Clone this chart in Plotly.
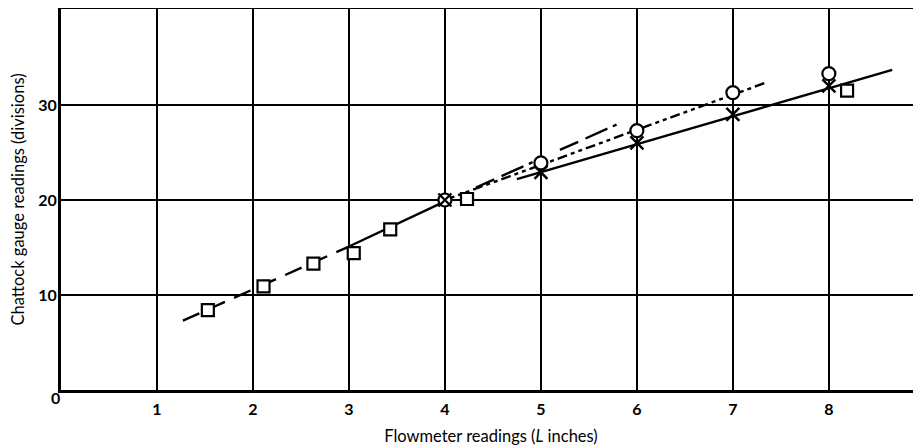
import plotly.graph_objects as go

# Data
sq_x = [1.53, 2.11, 2.63, 3.05, 3.43, 4.23, 8.19]
sq_y = [8.4, 10.9, 13.3, 14.4, 16.9, 20.1, 31.5]
circ_x = [4, 5, 6, 7, 8]
circ_y = [20.0, 23.9, 27.3, 31.3, 33.3]
cross_x = [4, 5, 6, 7, 8]
cross_y = [20.0, 22.9, 26.0, 29.0, 32.0]

# Fitted lines (end points)
sq_line_dash1_x = [1.27, 3.0]
sq_line_dash1_y = [7.3, 15.1]
sq_line_solid_x = [3.0, 4.0]
sq_line_solid_y = [15.1, 19.85]
sq_line_dash2_x = [4.0, 5.87]
sq_line_dash2_y = [19.85, 28.3]
circ_line_x = [4.0, 7.33]
circ_line_y = [20.0, 32.3]
cross_line_x = [4.75, 8.66]
cross_line_y = [22.2, 33.7]

x_ticks = [1, 2, 3, 4, 5, 6, 7, 8]
y_ticks = [10, 20, 30]

fig = go.Figure()
line_w = 2.4
fig.add_trace(go.Scatter(x=sq_line_dash1_x, y=sq_line_dash1_y, mode="lines",
                         line=dict(color="black", width=line_w, dash="18px,10px")))
fig.add_trace(go.Scatter(x=sq_line_solid_x, y=sq_line_solid_y, mode="lines",
                         line=dict(color="black", width=line_w)))
fig.add_trace(go.Scatter(x=sq_line_dash2_x, y=sq_line_dash2_y, mode="lines",
                         line=dict(color="black", width=line_w, dash="4px,30px,20px,8px,24px,6px")))
fig.add_trace(go.Scatter(x=circ_line_x, y=circ_line_y, mode="lines",
                         line=dict(color="black", width=line_w, dash="10px,4px,4px,4px,4px,4px")))
fig.add_trace(go.Scatter(x=cross_line_x, y=cross_line_y, mode="lines",
                         line=dict(color="black", width=line_w)))

fig.add_trace(go.Scatter(x=sq_x, y=sq_y, mode="markers",
                         marker=dict(symbol="square", size=12, color="white",
                                     line=dict(color="black", width=2.2))))
fig.add_trace(go.Scatter(x=circ_x, y=circ_y, mode="markers",
                         marker=dict(symbol="circle", size=13, color="white",
                                     line=dict(color="black", width=2.2))))
fig.add_trace(go.Scatter(x=cross_x, y=cross_y, mode="markers",
                         marker=dict(symbol="x-thin", size=13, color="black",
                                     line=dict(color="black", width=2.4))))

font_family = "Lato, 'Open Sans', sans-serif"
fig.update_layout(
    width=913, height=438,
    margin=dict(l=53, r=0, t=1, b=56, autoexpand=False),
    paper_bgcolor="white", plot_bgcolor="white",
    showlegend=False,
    font=dict(family=font_family, color="black"),
)
fig.update_xaxes(
    range=[0, 8.96], tickmode="array", tickvals=x_ticks,
    ticktext=[str(v) for v in x_ticks], automargin=False,
    showgrid=True, gridcolor="black", gridwidth=2,
    showline=True, linecolor="black", linewidth=3, mirror=True,
    zeroline=False, ticks="", ticklabelstandoff=3,
    tickfont=dict(size=16, family=font_family, weight="bold"),
    title=dict(text="Flowmeter readings (<i>L</i> inches)", font=dict(size=16.5), standoff=14),
)
fig.update_yaxes(
    range=[0, 40.1], tickmode="array", tickvals=y_ticks,
    ticktext=[str(v) for v in y_ticks], automargin=False,
    showgrid=True, gridcolor="black", gridwidth=2,
    showline=True, linecolor="black", linewidth=3, mirror=False,
    zeroline=False, ticks="", ticklabelstandoff=-2,
    tickfont=dict(size=16, family=font_family, weight="bold"),
    title=dict(text="Chattock gauge readings (divisions)", font=dict(size=16.5), standoff=12),
)
fig.add_annotation(x=0, y=0, xref="x", yref="y", text="0", showarrow=False,
                   xanchor="right", yanchor="top", xshift=1, yshift=4,
                   font=dict(size=16, family=font_family, weight="bold"))

fig.write_html("out.html")
